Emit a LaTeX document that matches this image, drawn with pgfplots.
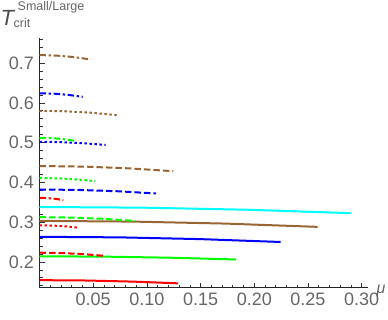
\documentclass[border=0pt]{standalone}
\usepackage{pgfplots}
\pgfplotsset{compat=1.18}
\usepackage{fontspec}
\setmainfont{Liberation Sans}
\definecolor{mbrown}{rgb}{0.6,0.4,0.2}
\definecolor{mcyan}{rgb}{0,1,1}
\definecolor{mred}{rgb}{1,0,0}
\definecolor{mgreen}{rgb}{0,1,0}
\definecolor{mblue}{rgb}{0,0,1}
\definecolor{lblgray}{rgb}{0.40,0.40,0.40}
\begin{document}
\begin{tikzpicture}
\useasboundingbox (-39.5pt,-31.3pt) rectangle (348.5pt,287.7pt);
\begin{axis}[
  at={(0,0)}, anchor=south west,
  scale only axis, width=328.6pt, height=249.7pt,
  xmin=0, xmax=0.306, ymin=0.135, ymax=0.763,
  axis lines*=left,
  axis line style={black!85, line width=0.8pt},
  tick align=inside,
  major tick length=5pt, minor tick length=3pt,
  tick style={black!80, line width=0.6pt},
  xtick={0.05,0.10,0.15,0.20,0.25,0.30},
  minor xtick={0.01,0.02,0.03,0.04,0.06,0.07,0.08,0.09,0.11,0.12,0.13,0.14,0.16,0.17,0.18,0.19,0.21,0.22,0.23,0.24,0.26,0.27,0.28,0.29},
  ytick={0.2,0.3,0.4,0.5,0.6,0.7},
  minor ytick={0.14,0.16,0.18,0.22,0.24,0.26,0.28,0.32,0.34,0.36,0.38,0.42,0.44,0.46,0.48,0.52,0.54,0.56,0.58,0.62,0.64,0.66,0.68,0.72,0.74,0.76},
  xticklabel style={/pgf/number format/fixed, /pgf/number format/fixed zerofill, /pgf/number format/precision=2, yshift=-2pt},
  yticklabel style={/pgf/number format/fixed, /pgf/number format/fixed zerofill, /pgf/number format/precision=1, xshift=-2pt},
  /pgf/number format/assume math mode=true,
  ticklabel style={font=\fontsize{18}{20}\selectfont, text=lblgray},
  clip=false,
  sld/.style={line width=2pt},
  dsh/.style={line width=2pt, dash pattern=on 6.5pt off 3pt},
  dot/.style={line width=2pt, dash pattern=on 2.4pt off 2.6pt},
  dd/.style={line width=2pt, dash pattern=on 6.5pt off 2.6pt on 2.4pt off 2.6pt},
]
% solid
\addplot[sld, mred] coordinates {(0,0.154) (0.043,0.1531) (0.086,0.1504) (0.129,0.146)};
\addplot[sld, mgreen] coordinates {(0,0.214) (0.061,0.2131) (0.122,0.2104) (0.183,0.206)};
\addplot[sld, mblue] coordinates {(0,0.263) (0.0748,0.2616) (0.1497,0.2572) (0.2245,0.250)};
\addplot[sld, mbrown] coordinates {(0,0.303) (0.0863,0.3013) (0.1727,0.2963) (0.259,0.288)};
\addplot[sld, mcyan] coordinates {(0,0.338) (0.0966,0.3363) (0.1931,0.3311) (0.2897,0.3225)};
% dashed
\addplot[dsh, mred] coordinates {(0,0.223) (0.0203,0.2221) (0.0407,0.2194) (0.061,0.215)};
\addplot[dsh, mgreen] coordinates {(0,0.3125) (0.0296,0.3114) (0.0593,0.3083) (0.0889,0.303)};
\addplot[dsh, mblue] coordinates {(0,0.382) (0.0362,0.3809) (0.0723,0.3776) (0.1085,0.372)};
\addplot[dsh, mbrown] coordinates {(0,0.441) (0.0415,0.4396) (0.0831,0.4352) (0.1246,0.428)};
% dotted
\addplot[dot, mred] coordinates {(0,0.292) (0.0123,0.2913) (0.0245,0.2892) (0.0368,0.2856)};
\addplot[dot, mgreen] coordinates {(0,0.411) (0.0172,0.4101) (0.0345,0.4074) (0.0517,0.403)};
\addplot[dot, mblue] coordinates {(0,0.502) (0.0205,0.5011) (0.0411,0.4984) (0.0616,0.494)};
\addplot[dot, mbrown] coordinates {(0,0.58) (0.024,0.5788) (0.0479,0.5751) (0.0719,0.569)};
% dash-dot
\addplot[dd, mred] coordinates {(0,0.361) (0.0074,0.3604) (0.0148,0.3585) (0.0222,0.3553)};
\addplot[dd, mgreen] coordinates {(0,0.512) (0.011,0.5112) (0.022,0.5087) (0.033,0.5045)};
\addplot[dd, mblue] coordinates {(0,0.624) (0.0134,0.623) (0.0268,0.62) (0.0402,0.615)};
\addplot[dd, mbrown] coordinates {(0,0.72) (0.0159,0.7188) (0.0318,0.7151) (0.0477,0.709)};
\end{axis}
% axis labels
\node[anchor=base west, inner sep=0pt, text=black!70] at (-39pt,262.2pt) {\fontsize{22}{22}\selectfont\itshape T};
\node[anchor=base west, inner sep=0pt, text=lblgray] at (-22pt,276.7pt) {\fontsize{12.5}{13}\selectfont Small/Large};
\node[anchor=base west, inner sep=0pt, text=lblgray] at (-26pt,259.7pt) {\fontsize{12.5}{13}\selectfont crit};
\node[anchor=base west, inner sep=0pt, text=lblgray] at (337pt,-5.3pt) {\fontsize{16}{16}\selectfont\itshape μ};
\end{tikzpicture}
\end{document}
